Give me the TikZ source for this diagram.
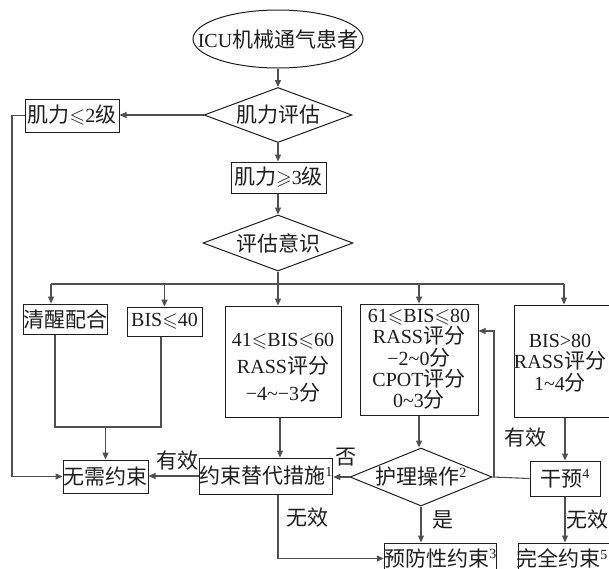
\documentclass[tikz,border=0pt]{standalone}
\usepackage{fontspec}
\usepackage{amssymb}
\setmainfont{Liberation Serif}
\newfontfamily\cjkf[Scale=1.05]{Noto Sans CJK SC}
\newcommand\zh[1]{{\cjkf #1}}
\newcommand\myle{${\leqslant}$}
\newcommand\myge{${\geqslant}$}
\newcommand\supx[1]{\textsuperscript{#1}}
\usetikzlibrary{shapes.geometric,arrows.meta}
\definecolor{edgec}{HTML}{505050}
\definecolor{ink}{HTML}{1E1E1E}
\begin{document}
\begin{tikzpicture}[x=1pt,y=-1pt,
  every node/.style={font=\fontsize{20}{22}\selectfont, text=ink, inner sep=0pt, align=center},
  box/.style={draw=ink, line width=1pt, rectangle},
  arr/.style={draw=edgec, line width=1.1pt, -{Triangle[length=7pt,width=6pt]}},
  ln/.style={draw=edgec, line width=1.1pt},
  lbl/.style={font=\fontsize{20}{22}\selectfont}
]
\fill[white] (0,0) rectangle (609,568);
\useasboundingbox (0,0) rectangle (609,568);
\clip (0,0) rectangle (609,568);

% top
\node[ellipse, draw=ink, line width=1pt, minimum width=170, minimum height=58] (start) at (278,39) {};
\node (starttxt) at (start.center) {ICU\zh{机械通气患者}};
\node[diamond, draw=ink, line width=1pt, minimum width=148, minimum height=55] (d1) at (278,115) {};
\node (d1txt) at (d1.center) {\zh{肌力评估}};
\node[box, minimum width=94, minimum height=33] (weak) at (72,115.5) {\zh{肌力}\myle 2\zh{级}};
\node[box, minimum width=95, minimum height=31] (strong) at (278.5,177.5) {\zh{肌力}\myge 3\zh{级}};
\node[diamond, draw=ink, line width=1pt, minimum width=150, minimum height=56] (d2) at (278,243) {};
\node (d2txt) at (d2.center) {\zh{评估意识}};

% level boxes
\node[box, minimum width=84, minimum height=30] (awake) at (65,319) {\zh{清醒配合}};
\node[box, minimum width=75, minimum height=29] (bis40) at (164.5,321.5) {BIS\myle 40};
\node[box, minimum width=116, minimum height=111] (b41) at (283,361.5) {};
\node[font=\fontsize{20}{27}\selectfont] (b41txt) at (283,367.5)
  {41\myle BIS\myle 60\\RASS\zh{评分}\\−4\textasciitilde−3\zh{分}};
\node[box, minimum width=118, minimum height=111, font=\fontsize{20}{21.3}\selectfont] (b61) at (419,359.5)
  {61\myle BIS\myle 80\\RASS\zh{评分}\\−2\textasciitilde 0\zh{分}\\CPOT\zh{评分}\\0\textasciitilde 3\zh{分}};
\node[box, minimum width=102, minimum height=112] (b80) at (565,361) {};
\node[font=\fontsize{20}{21.5}\selectfont] (b80txt) at (560,363)
  {BIS>80\\RASS\zh{评分}\\1\textasciitilde 4\zh{分}};

% bottom
\node[box, minimum width=85, minimum height=33] (none) at (105.5,476.5) {\zh{无需约束}};
\node[box, minimum width=132, minimum height=36] (alt) at (266,476) {\zh{约束替代措施}\supx{1}};
\node[diamond, draw=ink, line width=1pt, minimum width=142, minimum height=58] (d3) at (421,477) {};
\node (d3txt) at (d3.center) {\zh{护理操作}\supx{2}};
\node[box, minimum width=70, minimum height=35] (int) at (565,478.5) {\zh{干预}\supx{4}};
\node[box, minimum width=111, minimum height=31] (prev) at (440.5,558.5) {\zh{预防性约束}\supx{3}};
\node[box, minimum width=95, minimum height=31] (final) at (566,558.5) {};
\node (finaltxt) at (562,558.5) {\zh{完全约束}\supx{5}};

% labels
\node[lbl] (l1) at (177,461) {\zh{有效}};
\node[lbl] (l2) at (346,457) {\zh{否}};
\node[lbl] (l3) at (307,518) {\zh{无效}};
\node[lbl] (l4) at (443,520) {\zh{是}};
\node[lbl] (l5) at (525,438) {\zh{有效}};
\node[lbl] (l6) at (587,520) {\zh{无效}};

% coordinates
\coordinate (busL) at (51,284);
\coordinate (busR) at (564,284);
\coordinate (m1) at (55,427);
\coordinate (m2) at (161,427);
\coordinate (lx) at (12,300);
\coordinate (fb) at (494,477);
\coordinate (fbu) at (494,331);

% connectors
\draw[arr] (start.south) -- (d1.north);
\draw[arr] (d1.west) -- (d1.west -| weak.east);
\draw[arr] (d1.south) -- (d1.south |- strong.north);
\draw[arr] (strong.south -| d2.north) -- (d2.north);
\draw[ln] (busL) -- (busR);
\draw[arr] (d2.south) -- (d2.south |- b41.north);
\draw[arr] (busL) -- (busL |- awake.north);
\draw[arr] (bis40.north |- busL) -- (bis40.north);
\draw[arr] (b61.north |- busL) -- (b61.north);
\draw[arr] (busR) -- (busR |- b80.north);

\draw[ln] (awake.south -| m1) -- (m1) -- (m2) -- (bis40.south -| m2);
\draw[arr] (none.north |- m1) -- (none.north);
\draw[arr] (weak.west) -- (weak.west -| lx) -- (lx |- none.west) -- (none.west);

\draw[arr] (alt.west) -- (alt.west -| none.east);
\draw[arr] ([xshift=-3pt]b41.south) -- ([xshift=-3pt]b41.south |- alt.north);
\draw[arr] (d3.west) -- (d3.west -| alt.east);
\draw[arr] (b61.south) -- (b61.south |- d3.north);
\draw[arr] (d3.south) -- (d3.south |- prev.north);
\draw[arr] ([xshift=12pt]alt.south) |- (prev.west);

\draw[arr] (b80.south) -- (b80.south |- int.north);
\draw[ln] (int.west) -- (d3.east);
\draw[arr] (fb) -- (fbu) -- (fbu -| b61.east);
\draw[arr] (int.south) -- (int.south |- final.north);
\end{tikzpicture}
\end{document}
